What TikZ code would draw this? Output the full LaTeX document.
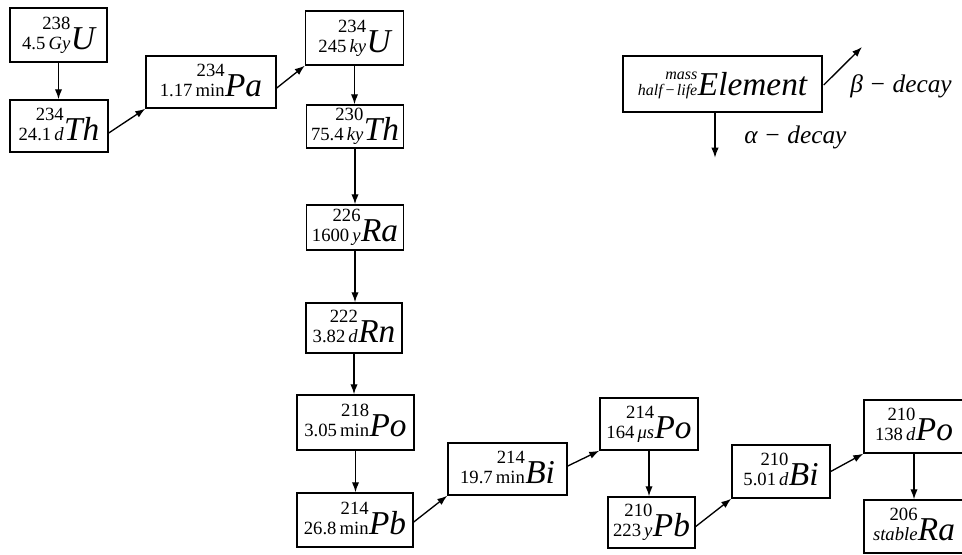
\documentclass[tikz,border=0pt]{standalone}
\usepackage{fontspec}
\setmainfont{Liberation Serif}
\usetikzlibrary{arrows.meta,calc}
\newdimen\pxu \pxu=0.75pt
\newcommand\iso[3]{{\fontsize{14}{15}\selectfont\begin{tabular}[b]{@{}r@{}}#1\\#2\end{tabular}}\kern0.3pt{\fontsize{25}{25}\selectfont\itshape #3}}
\newcommand\un[1]{\,\textit{#1}}
\tikzset{
  box/.style 2 args={draw, line width=1.1pt, inner sep=0pt, minimum width=#1*\pxu, minimum height=#2*\pxu},
  arr/.style={-{Latex[length=7.5pt,width=5.5pt]}, line width=1pt},
  lbl/.style={font=\fontsize{19}{19}\selectfont\itshape, inner sep=0pt}
}
\begin{document}
\begin{tikzpicture}[x=0.75pt,y=-0.75pt]
\useasboundingbox (0,0) rectangle (962,554);
% boxes
\node[box={97}{54}] (U238) at (58.5,35) {\iso{238}{4.5\un{Gy}}{U}};
\node[box={98}{52}] (Th234) at (59,126) {\iso{234}{24.1\un{d}}{Th}};
\node[box={130}{52}] (Pa234) at (211,82) {\iso{234}{1.17\,min}{Pa}};
\node[box={98}{54}] (U234) at (354.5,38) {\iso{234}{245\un{ky}}{U}};
\node[box={97}{43}] (Th230) at (355,126.5) {\iso{230}{75.4\un{ky}}{Th}};
\node[box={97}{45}] (Ra226) at (355,227.5) {\iso{226}{1600\un{y}}{Ra}};
\node[box={96}{50}] (Rn222) at (354,328) {\iso{222}{3.82\un{d}}{Rn}};
\node[box={117}{55}] (Po218) at (355.5,422.5) {\iso{218}{3.05\,min}{Po}};
\node[box={116}{54}] (Pb214) at (355,520) {\iso{214}{26.8\,min}{Pb}};
\node[box={119}{52}] (Bi214) at (507.5,469) {\iso{214}{19.7\,min}{Bi}};
\node[box={98}{52}] (Po214) at (649,424) {\iso{214}{164\un{μs}}{Po}};
\node[box={87}{51}] (Pb210) at (651.5,522.5) {\iso{210}{223\un{y}}{Pb}};
\node[box={98}{53}] (Bi210) at (781,471.5) {\iso{210}{5.01\un{d}}{Bi}};
\node[box={100}{53}] (Po210) at (914,426.5) {\iso{210}{138\un{d}}{Po}};
\node[box={100}{53}] (Ra206) at (914,526.5) {\iso{206}{\textit{stable}}{Ra}};
% alpha decays
\draw[arr] (U238.south) -- (U238.south |- Th234.north);
\draw[arr] (U234.south) -- (U234.south |- Th230.north);
\draw[arr] (Th230.south) -- (Th230.south |- Ra226.north);
\draw[arr] (Ra226.south) -- (Ra226.south |- Rn222.north);
\draw[arr] (Rn222.south) -- (Rn222.south |- Po218.north);
\draw[arr] (Po218.south) -- (Po218.south |- Pb214.north);
\draw[arr] (Po214.south) -- (Po214.south |- Pb210.north);
\draw[arr] (Po210.south) -- (Po210.south |- Ra206.north);
% beta decays
\draw[arr] ($(Th234.east)+(0,7)$) -- (Pa234.south west);
\draw[arr] ($(Pa234.east)+(0,6)$) -- (U234.south west);
\draw[arr] ($(Pb214.east)+(0,2)$) -- (Bi214.south west);
\draw[arr] ($(Bi214.east)+(0,-3)$) -- (Po214.south west);
\draw[arr] ($(Pb210.east)+(0,4)$) -- (Bi210.south west);
\draw[arr] (Bi210.east) -- (Po210.south west);
% legend
\node[box={199}{56}] (leg) at (722.5,84) {{\fontsize{12}{12.5}\selectfont\itshape\begin{tabular}[b]{@{}r@{}}mass\\half\kern1.5pt−\kern1pt life\end{tabular}}\kern0.5pt{\fontsize{25}{25}\selectfont\itshape Element}};
\coordinate (betaend) at (862,47);
\draw[arr] ($(leg.east)+(1,1)$) -- (betaend);
\node[lbl, anchor=west] (betalbl) at (850,86) {β − decay};
\coordinate (alphastart) at ($(leg.south)+(-7.5,0)$);
\coordinate (alphaend) at ($(alphastart)+(0,45)$);
\draw[arr] (alphastart) -- (alphaend);
\node[lbl, anchor=west] (alphalbl) at (744,137) {α − decay};
\end{tikzpicture}
\end{document}
